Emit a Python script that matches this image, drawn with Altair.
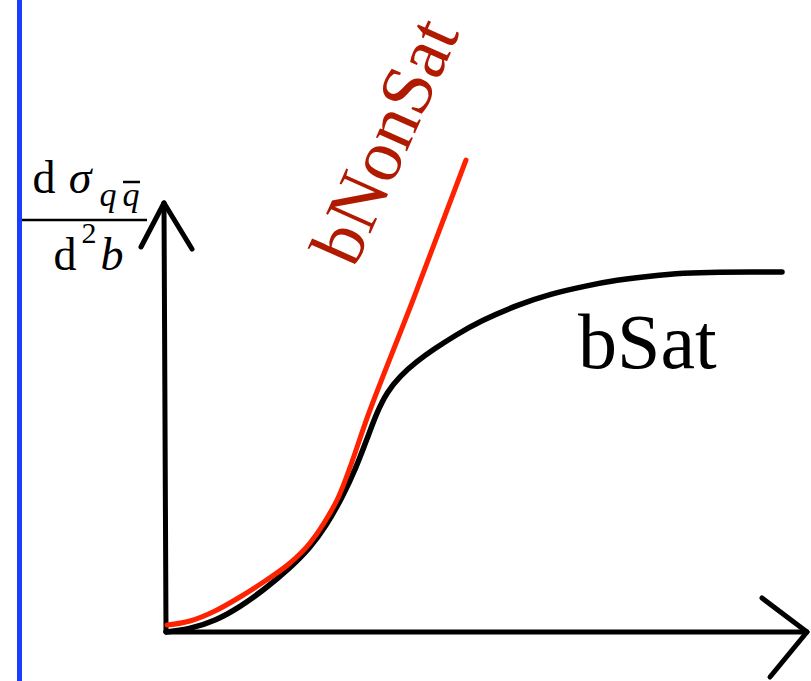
import altair as alt
import pandas as pd

# Sketch coordinates: origin at the corner of the two axes, y upwards.
# Saturated dipole cross section (black curve)
sat_b = [0, 24, 49, 74, 99, 124, 144, 160, 176, 190, 201, 211, 221, 234, 250,
         268, 290, 314, 354, 384, 419, 451, 484, 517, 554, 584, 616]
sat_s = [0, 3, 11, 25, 43, 64, 84, 106, 134, 164, 193, 220, 240, 256, 270,
         283, 297, 311, 328, 338, 346, 352, 356, 359, 360, 360, 360]

# Non-saturated growth (red curve)
nonsat_b = [1, 24, 49, 74, 99, 124, 144, 158, 171, 204, 247, 300]
nonsat_s = [7, 11, 21, 35, 51, 69, 89, 109, 132, 222, 332, 472]

# Axis segments with arrow heads: (x, y, x2, y2)
axis_segments = [
    (0, 0, -2, 427), (-2, 429, -25, 385), (-2, 429, 26, 383),   # vertical axis
    (0, 0, 640, 0), (641, 0, 596, 34), (641, 0, 604, -45),      # horizontal axis
]

SERIF = "Liberation Serif"

W, H = 811, 681
xs = alt.Scale(domain=[-166, 645], range=[0, W], nice=False, zero=False)
ys = alt.Scale(domain=[-49, 632], range=[H, 0], nice=False, zero=False)


def X(f="x"):
    return alt.X(f"{f}:Q", scale=xs, axis=None)


def Y(f="y"):
    return alt.Y(f"{f}:Q", scale=ys, axis=None)


sat_df = pd.DataFrame({"x": sat_b, "y": sat_s})
nonsat_df = pd.DataFrame({"x": nonsat_b, "y": nonsat_s})
axes_df = pd.DataFrame(axis_segments, columns=["x", "y", "x2", "y2"])

# left frame edge
edge = alt.Chart(pd.DataFrame({"x": [-146.5], "y": [-49], "y2": [632]})).mark_rule(
    color="#1a3dff", strokeWidth=5
).encode(x=X(), y=Y(), y2="y2:Q")

axes = alt.Chart(axes_df).mark_rule(
    color="black", strokeWidth=5, strokeCap="round"
).encode(x=X(), y=Y(), x2="x2:Q", y2="y2:Q")

sat_line = alt.Chart(sat_df).mark_line(
    color="black", strokeWidth=5.5, strokeCap="round", interpolate="basis"
).encode(x=X(), y=Y())

nonsat_line = alt.Chart(nonsat_df).mark_line(
    color="#ff2200", strokeWidth=5, strokeCap="round", interpolate="monotone"
).encode(x=X(), y=Y())

# Curve labels
sat_label = alt.Chart(pd.DataFrame({"x": [412], "y": [264], "t": ["bSat"]})).mark_text(
    font=SERIF, fontSize=78, align="left", baseline="alphabetic", color="black"
).encode(x=X(), y=Y(), text="t:N")

nonsat_label = alt.Chart(pd.DataFrame({"x": [221], "y": [490], "t": ["bNonSat"]})).mark_text(
    font=SERIF, fontSize=74, align="center", baseline="middle",
    angle=294, color="#b01a00"
).encode(x=X(), y=Y(), text="t:N")

# Vertical axis label: d sigma_{q qbar} / d^2 b
glyph_text = ["d", "\u03c3", "q", "q", "d", "2", "b"]
glyph_x = [-122, -86, -58, -35, -101, -77, -54]
glyph_y = [439, 439, 426, 426, 362, 389, 362]
glyph_size = [46, 46, 34, 34, 46, 30, 46]
glyph_style = ["normal", "italic", "italic", "italic", "normal", "normal", "italic"]

glyph_df = pd.DataFrame({"x": glyph_x, "y": glyph_y, "t": glyph_text,
                         "s": glyph_size, "st": glyph_style})
glyph_layers = []
for style in ["normal", "italic"]:
    for size in sorted(set(glyph_size)):
        sub = glyph_df[(glyph_df.st == style) & (glyph_df.s == size)]
        if len(sub) == 0:
            continue
        glyph_layers.append(
            alt.Chart(sub).mark_text(
                font=SERIF, fontSize=size, fontStyle=style,
                align="center", baseline="alphabetic", color="black"
            ).encode(x=X(), y=Y(), text="t:N")
        )

# fraction bar and the bar over the second q
frac_bars = alt.Chart(pd.DataFrame({
    "x": [-144, -43], "x2": [-19, -26], "y": [412, 450]
})).mark_rule(color="black", strokeWidth=2.5).encode(x=X(), x2="x2:Q", y=Y())

chart = alt.layer(
    edge, axes, sat_line, nonsat_line, sat_label, nonsat_label, frac_bars, *glyph_layers
).properties(
    width=W, height=H, padding=0, autosize=alt.AutoSizeParams(type="none"),
    background="white"
).configure(font=SERIF).configure_text(font=SERIF).configure_view(stroke=None)

chart.save("out.html", embed_options={"renderer": "svg", "actions": False})
